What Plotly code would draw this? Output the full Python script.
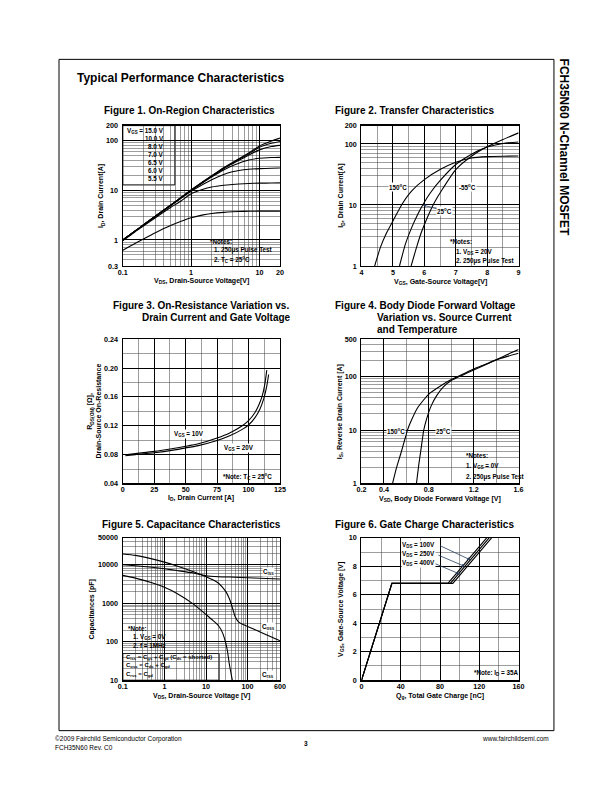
import math
import plotly.graph_objects as go

W, H = 612, 792
FONT = "Liberation Sans, Arial, Helvetica, sans-serif"

# ---------------- Figure 1 : On-Region Characteristics ----------------
F1_VDS = [0.1, 0.15, 0.2, 0.3, 0.5, 0.7, 1.0, 1.5, 2.0, 3.0, 4.0, 5.0, 7.0, 10.0, 15.0, 20.0]
F1_ID_15V = [1.0, 1.5, 2.0, 3.0, 5.0, 7.0, 10.2, 15.0, 19.6, 28.5, 36, 43, 56, 78, 98, 112]
F1_ID_10V = [1.0, 1.5, 2.0, 3.0, 5.0, 7.0, 10.1, 14.9, 19.4, 28.0, 35, 42, 54, 73, 88, 96]
F1_ID_8V = [1.0, 1.5, 2.0, 3.0, 5.0, 7.0, 10.0, 14.7, 19.1, 27.2, 34, 40, 51, 65, 76, 80]
F1_ID_7V = [1.0, 1.5, 2.0, 3.0, 5.0, 7.0, 9.9, 14.3, 18.4, 25.5, 31, 35, 40.5, 44, 45.5, 46]
F1_ID_65V = [1.0, 1.5, 2.0, 3.0, 4.9, 6.8, 9.5, 13.2, 16.3, 20.8, 23.5, 25.0, 26.5, 27.3, 27.7, 28]
F1_ID_6V = [0.97, 1.45, 1.9, 2.8, 4.5, 6.0, 8.5, 10.5, 11.6, 12.6, 13.1, 13.4, 13.7, 13.9, 14.0, 14.1]
F1_ID_55V = [0.62, 0.85, 1.05, 1.4, 1.95, 2.35, 2.8, 3.2, 3.4, 3.6, 3.7, 3.75, 3.78, 3.8, 3.8, 3.8]
F1_LEGEND = ["V<sub>GS</sub> = 15.0 V", "10.0 V", "8.0 V", "7.0 V", "6.5 V", "6.0 V", "5.5 V"]
F1_XTICKS = [0.1, 1, 10, 20]
F1_XLABELS = ["0.1", "1", "10", "20"]
F1_YTICKS = [0.3, 1, 10, 100, 200]
F1_YLABELS = ["0.3", "1", "10", "100", "200"]

# ---------------- Figure 2 : Transfer Characteristics ----------------
F2_VGS_150 = [4.42, 4.6, 4.8, 5.05, 5.3, 5.6, 6.0, 6.5, 7.0, 7.5, 8.0, 8.5, 9.0]
F2_ID_150 = [1.0, 2.0, 3.5, 6.1, 10.5, 17, 26, 38, 50, 59, 62, 63, 63.5]
F2_VGS_25 = [5.21, 5.4, 5.6, 5.8, 5.95, 6.2, 6.5, 7.0, 7.5, 8.0, 8.5, 9.0]
F2_ID_25 = [1.0, 2.3, 4.3, 7.2, 10, 16, 25, 46, 68, 89, 102, 108]
F2_VGS_M55 = [5.58, 5.75, 5.9, 6.1, 6.3, 6.6, 7.0, 7.5, 8.0, 8.5, 9.0]
F2_ID_M55 = [1.0, 2.0, 3.5, 6.3, 10.5, 19, 38, 63, 90, 118, 152]
F2_XTICKS = [4, 5, 6, 7, 8, 9]
F2_YTICKS = [1, 10, 100, 200]

# ---------------- Figure 3 : On-Resistance ----------------
F3_ID_10V = [2, 10, 25, 40, 50, 60, 75, 85, 95, 100, 105, 108, 111, 113, 114.5]
F3_R_10V = [0.0798, 0.0815, 0.0845, 0.0885, 0.0915, 0.095, 0.103, 0.110, 0.120, 0.127, 0.138, 0.148, 0.162, 0.178, 0.197]
F3_ID_20V = [2, 10, 25, 40, 50, 60, 75, 85, 95, 100, 105, 109, 112, 114.5, 116]
F3_R_20V = [0.0785, 0.080, 0.0826, 0.0862, 0.0893, 0.0925, 0.0995, 0.106, 0.115, 0.121, 0.131, 0.143, 0.157, 0.175, 0.191]
F3_XTICKS = [0, 25, 50, 75, 100, 125]
F3_YTICKS = [0.04, 0.08, 0.12, 0.16, 0.20, 0.24]
F3_YLABELS = ["0.04", "0.08", "0.12", "0.16", "0.20", "0.24"]

# ---------------- Figure 4 : Body Diode ----------------
F4_VSD_150 = [0.477, 0.51, 0.55, 0.58, 0.61, 0.65, 0.7, 0.8, 0.9, 1.0, 1.1, 1.2, 1.3, 1.4, 1.5, 1.6]
F4_IS_150 = [1.0, 1.9, 3.6, 6.0, 10, 16, 26, 47, 66, 88, 110, 138, 168, 205, 238, 272]
F4_VSD_25 = [0.69, 0.71, 0.73, 0.755, 0.78, 0.82, 0.87, 0.93, 1.0, 1.1, 1.2, 1.3, 1.4, 1.5, 1.6]
F4_IS_25 = [1.0, 2.2, 4.3, 10, 16, 28, 44, 64, 84, 106, 132, 165, 205, 258, 320]
F4_XTICKS = [0.2, 0.4, 0.8, 1.2, 1.6]
F4_XLABELS = ["0.2", "0.4", "0.8", "1.2", "1.6"]
F4_YTICKS = [1, 10, 100, 500]

# ---------------- Figure 5 : Capacitance ----------------
F5_VDS_CISS = [0.1, 0.2, 0.5, 1, 2, 5, 10, 20, 50, 100, 200, 600]
F5_CISS = [10000, 9400, 8600, 7900, 7100, 6100, 5200, 4900, 4750, 4600, 4450, 4250]
F5_VDS_COSS = [0.1, 0.2, 0.5, 1, 2, 5, 10, 15, 20, 25, 30, 35, 40, 45, 50, 60, 80, 100, 200, 400, 600]
F5_COSS = [19000, 17500, 14200, 11700, 9300, 6600, 4900, 4000, 3300, 2600, 2000, 1450, 1000, 650, 450, 330, 275, 250, 180, 128, 106]
F5_VDS_CRSS = [0.1, 0.2, 0.5, 1, 2, 5, 10, 15, 20, 25, 30, 33, 36, 40, 43, 46]
F5_CRSS = [5300, 4500, 3400, 2600, 1800, 950, 510, 350, 260, 170, 90, 55, 28, 15, 10, 8]
F5_XTICKS = [0.1, 1, 10, 100, 600]
F5_XLABELS = ["0.1", "1", "10", "100", "600"]
F5_YTICKS = [10, 100, 1000, 10000, 50000]

# ---------------- Figure 6 : Gate Charge ----------------
F6_QG_100V = [0, 31, 88, 127.5]
F6_QG_250V = [0, 31, 90.5, 130]
F6_QG_400V = [0, 31, 93, 132.5]
F6_VGS = [0, 6.8, 6.8, 10]
F6_XTICKS = [0, 40, 80, 120, 160]
F6_YTICKS = [0, 2, 4, 6, 8, 10]


def decade_minor(lo, hi):
    vals = []
    e = math.floor(math.log10(lo))
    while 10 ** e <= hi:
        for m in range(2, 10):
            v = m * 10 ** e
            if lo < v < hi:
                vals.append(round(v, 10))
        e += 1
    return vals


# panel pixel boxes: (x0, x1, y0, y1)
PANELS = {
    1: (120, 280, 123, 265),
    2: (363, 523, 123, 265),
    3: (120, 280, 339, 485),
    4: (363, 523, 339, 485),
    5: (120, 280, 540, 684),
    6: (363, 523, 540, 684),
}


def xa(p):
    return "x" if p == 1 else f"x{p}"


def ya(p):
    return "y" if p == 1 else f"y{p}"


def axis_cfg(p, which, typ, rng, major, labels, minor):
    x0, x1, y0, y1 = PANELS[p]
    if which == "x":
        dom = [x0 / W, x1 / W]
        anchor = ya(p)
        standoff = -1
    else:
        dom = [1 - y1 / H, 1 - y0 / H]
        anchor = xa(p)
        standoff = 2
    return dict(
        domain=dom, anchor=anchor, type=typ, range=rng,
        tickmode="array", tickvals=major, ticktext=labels,
        showgrid=True, gridcolor="black", gridwidth=1.0,
        minor=dict(tickmode="array", tickvals=minor, showgrid=True,
                   gridcolor="#3c3c3c", gridwidth=0.5, ticks=""),
        showline=True, linecolor="black", linewidth=1.3, mirror=True,
        ticks="", zeroline=False, fixedrange=True,
        ticklabelstandoff=standoff,
        tickfont=dict(family=FONT, size=7.2, color="black", weight="bold"),
    )


fig = go.Figure()


def add_curve(p, x, y, smooth=True, width=1.1):
    line = dict(color="black", width=width)
    if smooth:
        line.update(shape="spline", smoothing=0.6)
    fig.add_trace(go.Scatter(x=x, y=y, mode="lines", line=line,
                             xaxis=xa(p), yaxis=ya(p), showlegend=False,
                             hoverinfo="skip"))


# Figure 1 curves
for ser in [F1_ID_15V, F1_ID_10V, F1_ID_8V, F1_ID_7V, F1_ID_65V, F1_ID_6V, F1_ID_55V]:
    add_curve(1, F1_VDS, ser)
# Figure 2
add_curve(2, F2_VGS_150, F2_ID_150)
add_curve(2, F2_VGS_25, F2_ID_25)
add_curve(2, F2_VGS_M55, F2_ID_M55)
# Figure 3
add_curve(3, F3_ID_10V, F3_R_10V)
add_curve(3, F3_ID_20V, F3_R_20V)
# Figure 4
add_curve(4, F4_VSD_150, F4_IS_150)
add_curve(4, F4_VSD_25, F4_IS_25)
# Figure 5
add_curve(5, F5_VDS_CISS, F5_CISS)
add_curve(5, F5_VDS_COSS, F5_COSS)
add_curve(5, F5_VDS_CRSS, F5_CRSS)
# Figure 6
add_curve(6, F6_QG_100V, F6_VGS, smooth=False)
add_curve(6, F6_QG_250V, F6_VGS, smooth=False)
add_curve(6, F6_QG_400V, F6_VGS, smooth=False)

lg = math.log10
layout_axes = {}
layout_axes["xaxis"] = axis_cfg(1, "x", "log", [lg(0.1), lg(20)], F1_XTICKS, F1_XLABELS, decade_minor(0.1, 20))
layout_axes["yaxis"] = axis_cfg(1, "y", "log", [lg(0.3), lg(200)], F1_YTICKS, F1_YLABELS, decade_minor(0.3, 200))
layout_axes["xaxis2"] = axis_cfg(2, "x", "linear", [4, 9], F2_XTICKS, [str(v) for v in F2_XTICKS], [4.5, 5.5, 6.5, 7.5, 8.5])
layout_axes["yaxis2"] = axis_cfg(2, "y", "log", [0, lg(200)], F2_YTICKS, [str(v) for v in F2_YTICKS], decade_minor(1, 200))
layout_axes["xaxis3"] = axis_cfg(3, "x", "linear", [0, 125], F3_XTICKS, [str(v) for v in F3_XTICKS], [12.5, 37.5, 62.5, 87.5, 112.5])
layout_axes["yaxis3"] = axis_cfg(3, "y", "linear", [0.04, 0.24], F3_YTICKS, F3_YLABELS, [0.06, 0.10, 0.14, 0.18, 0.22])
layout_axes["xaxis4"] = axis_cfg(4, "x", "linear", [0.2, 1.6], F4_XTICKS, F4_XLABELS, [0.6, 1.0, 1.4])
layout_axes["yaxis4"] = axis_cfg(4, "y", "log", [0, lg(500)], F4_YTICKS, [str(v) for v in F4_YTICKS], decade_minor(1, 500))
layout_axes["xaxis5"] = axis_cfg(5, "x", "log", [lg(0.1), lg(600)], F5_XTICKS, F5_XLABELS, decade_minor(0.1, 600))
layout_axes["yaxis5"] = axis_cfg(5, "y", "log", [1, lg(50000)], F5_YTICKS, [str(v) for v in F5_YTICKS], decade_minor(10, 50000))
layout_axes["xaxis6"] = axis_cfg(6, "x", "linear", [0, 160], F6_XTICKS, [str(v) for v in F6_XTICKS], [20, 60, 100, 140])
layout_axes["yaxis6"] = axis_cfg(6, "y", "linear", [0, 10], F6_YTICKS, [str(v) for v in F6_YTICKS], [1, 3, 5, 7, 9])

annotations = []


def txt(x, y, s, size=6.5, anchor="left", bold=True, bg=None, angle=0, yanchor="middle"):
    d = dict(x=x / W, y=1 - y / H, xref="paper", yref="paper", text=s,
             showarrow=False, xanchor=anchor, yanchor=yanchor, textangle=angle,
             font=dict(family=FONT, size=size, color="black",
                       weight="bold" if bold else "normal"),
             borderpad=0)
    if bg:
        d["bgcolor"] = bg
    annotations.append(d)


shapes = []


def box(x0, y0, x1, y1, border=False):
    shapes.append(dict(type="rect", xref="paper", yref="paper",
                       x0=x0 / W, x1=x1 / W, y0=1 - y1 / H, y1=1 - y0 / H,
                       fillcolor="white", layer="between",
                       line=dict(color="black", width=1 if border else 0)))


# page frame
shapes.append(dict(type="rect", xref="paper", yref="paper",
                   x0=55 / W, x1=559 / W, y0=1 - 735 / H, y1=1 - 56 / H,
                   line=dict(color="black", width=1), layer="below"))

# page texts
txt(72, 75, "Typical Performance Characteristics", size=12)
txt(569, 145, "FCH35N60 N-Channel MOSFET", size=12, anchor="center", angle=90)
txt(50, 743, "©2009 Fairchild Semiconductor Corporation", size=6.5, bold=False)
txt(50, 752, "FCH35N60 Rev. C0", size=6.5, bold=False)
txt(307, 748, "3", size=6.5, anchor="center", bold=True)
txt(555, 743, "www.fairchildsemi.com", size=6.5, anchor="right", bold=False)

# figure titles
txt(100, 108, "Figure 1. On-Region Characteristics", size=10)
txt(335, 108, "Figure 2. Transfer Characteristics", size=10)
txt(109, 305, "Figure 3. On-Resistance Variation vs.", size=10)
txt(138, 317, "Drain Current and Gate Voltage", size=10)
txt(335, 305, "Figure 4. Body Diode Forward Voltage", size=10)
txt(378, 317, "Variation vs. Source Current", size=10)
txt(378, 329, "and Temperature", size=10)
txt(98, 526, "Figure 5. Capacitance Characteristics", size=10)
txt(335, 526, "Figure 6. Gate Charge Characteristics", size=10)

# axis titles
AX = 7
txt(200, 280, "V<sub>DS</sub>, Drain-Source Voltage[V]", size=AX, anchor="center")
txt(98, 194, "I<sub>D</sub>, Drain Current[A]", size=AX, anchor="center", angle=-90)
txt(443, 281, "V<sub>GS</sub>, Gate-Source Voltage[V]", size=AX, anchor="center")
txt(342, 194, "I<sub>D</sub>, Drain Current[A]", size=AX, anchor="center", angle=-90)
txt(200, 500, "I<sub>D</sub>, Drain Current [A]", size=AX, anchor="center")
txt(87, 412, "R<sub>DS(ON)</sub> [Ω],", size=AX, anchor="center", angle=-90)
txt(95, 412, "Drain-Source On-Resistance", size=AX, anchor="center", angle=-90)
txt(443, 500.5, "V<sub>SD</sub>, Body Diode Forward Voltage [V]", size=AX, anchor="center")
txt(341, 412, "I<sub>S</sub>, Reverse Drain Current [A]", size=AX, anchor="center", angle=-90)
txt(200, 700, "V<sub>DS</sub>, Drain-Source Voltage [V]", size=AX, anchor="center")
txt(89, 612, "Capacitances [pF]", size=AX, anchor="center", angle=-90)
txt(443, 700, "Q<sub>g</sub>, Total Gate Charge [nC]", size=AX, anchor="center")
txt(342, 612, "V<sub>GS</sub>, Gate-Source Voltage [V]", size=AX, anchor="center", angle=-90)

# Figure 1 legend box and notes
box(120, 123, 173, 183, border=True)
for i, s in enumerate(F1_LEGEND):
    txt(163, 128.3 + i * 7.95, s, size=6.3, anchor="right")
box(205, 235, 278, 264)
txt(208, 240, "*Notes:", size=6.3)
txt(212, 249, "1. 250μs Pulse Test", size=6.3)
txt(212, 258.5, "2. T<sub>C</sub> = 25<sup>o</sup>C", size=6.3)

# Figure 2 labels and notes
txt(400, 185, "150<sup>o</sup>C", size=6.3, anchor="center", bg="white")
txt(471, 185, "-55<sup>o</sup>C", size=6.3, anchor="center", bg="white")
annotations.append(dict(x=5.95, y=lg(10), xref="x2", yref="y2", text="25<sup>o</sup>C",
                        showarrow=True, arrowhead=2, arrowsize=0.8, arrowwidth=0.8,
                        ax=22, ay=6, bgcolor="white", borderpad=0,
                        font=dict(family=FONT, size=6.3, color="black", weight="bold")))
box(448, 235, 522, 265)
txt(452, 240.7, "*Notes:", size=6.3)
txt(458, 250.7, "1. V<sub>DS</sub> = 20V", size=6.3)
txt(458, 260.2, "2. 250μs Pulse Test", size=6.3)

# Figure 3 labels
txt(187, 435, "V<sub>GS</sub> = 10V", size=6.3, anchor="center", bg="white")
txt(238, 449, "V<sub>GS</sub> = 20V", size=6.3, anchor="center", bg="white")
box(217, 472, 279, 485)
txt(221, 478, "*Note: T<sub>C</sub> = 25<sup>o</sup>C", size=6.3)

# Figure 4 labels and notes
txt(398, 431.7, "150<sup>o</sup>C", size=6.3, anchor="center", bg="white")
txt(446.7, 431.7, "25<sup>o</sup>C", size=6.3, anchor="center", bg="white")
box(463, 452, 522, 484)
txt(468, 457, "*Notes:", size=6.3)
txt(468, 467.5, "1. V<sub>GS</sub> = 0V", size=6.3)
txt(468, 478, "2. 250μs Pulse Test", size=6.3)

# Figure 5 labels and notes
txt(268.3, 574.3, "C<sub>iss</sub>", size=6.3, anchor="center", bg="white")
txt(268.3, 630, "C<sub>oss</sub>", size=6.3, anchor="center", bg="white")
txt(268.3, 678.3, "C<sub>rss</sub>", size=6.3, anchor="center", bg="white")
box(120, 627, 164, 656)
txt(124, 632, "*Note:", size=6.3)
txt(129, 640.5, "1. V<sub>GS</sub> = 0V", size=6.3)
txt(129, 649, "2. f = 1MHz", size=6.3)
box(120, 657, 218, 684, border=True)
txt(122, 661, "C<sub>iss</sub> = C<sub>gs</sub> + C<sub>gd</sub> (C<sub>ds</sub> = shorted)", size=6)
txt(122, 669.5, "C<sub>oss</sub> = C<sub>ds</sub> + C<sub>gd</sub>", size=6)
txt(122, 678, "C<sub>rss</sub> = C<sub>gd</sub>", size=6)

# Figure 6 labels and arrows
txt(403, 547.7, "V<sub>DS</sub> = 100V", size=6.3, bg="white")
txt(403, 556.7, "V<sub>DS</sub> = 250V", size=6.3, bg="white")
txt(403, 565.7, "V<sub>DS</sub> = 400V", size=6.3, bg="white")
for hx, hy, dx, dy in [(111, 8.45, -32, -15), (105.3, 7.99, -28, -12), (100.3, 7.45, -26, -11)]:
    annotations.append(dict(x=hx, y=hy, xref="x6", yref="y6", text="", showarrow=True,
                            arrowhead=2, arrowsize=0.8, arrowwidth=0.8, ax=dx, ay=dy))
box(462, 671, 523, 684)
txt(477, 677, "*Note: I<sub>D</sub> = 35A", size=6.3)

fig.update_layout(
    width=W, height=H, autosize=False,
    margin=dict(l=0, r=0, t=0, b=0),
    paper_bgcolor="white", plot_bgcolor="white",
    showlegend=False,
    font=dict(family=FONT, color="black"),
    annotations=annotations, shapes=shapes,
    **layout_axes,
)

fig.write_html("out.html", config={"displayModeBar": False, "staticPlot": True},
               post_script="document.body.style.margin='0';")
